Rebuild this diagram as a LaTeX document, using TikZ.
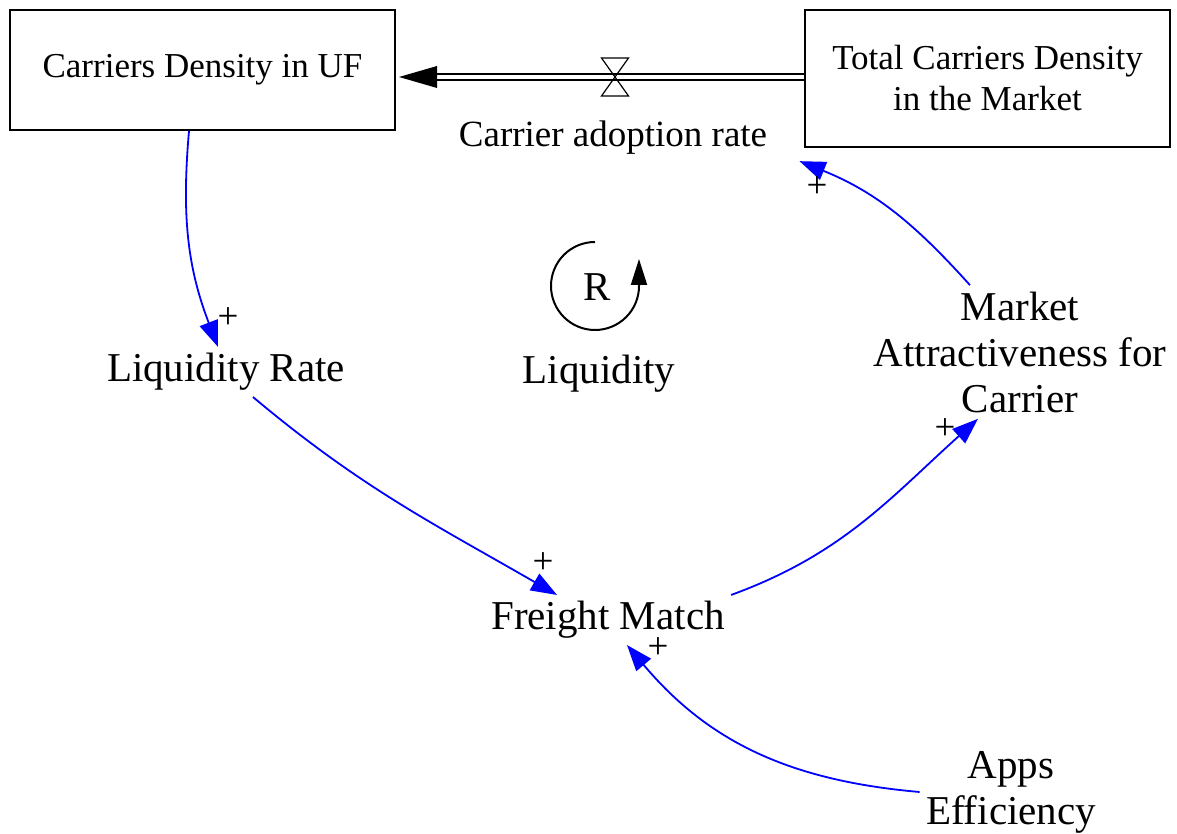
\documentclass[tikz,border=0pt]{standalone}
\usepackage{fontspec}
\setmainfont{Liberation Serif}
\usetikzlibrary{arrows.meta,positioning,calc}
\tikzset{stock/.style={draw,line width=1pt,align=center,inner sep=0pt,font=\fontsize{17.5}{20.5}\selectfont},
  var/.style={align=center,inner sep=3pt,font=\fontsize{20.5}{23}\selectfont},
  pol/.style={inner sep=0pt,font=\fontsize{18.5}{20}\selectfont},
  link/.style={-{Triangle[length=13pt,width=9.5pt]},draw=blue,line width=0.9pt},
  pipe/.style={double,double distance=2.35pt,line width=0.8pt}}

\begin{document}
\begin{tikzpicture}[x=0.5pt,y=0.5pt]
\useasboundingbox (0,0) rectangle (1177,834);
\node[stock,minimum width=192.5pt,minimum height=60pt] (ufstock) at (202.5,764) {Carriers Density in UF};
\node[stock,minimum width=182.5pt,minimum height=68.5pt] (mktstock) at (987.5,755.5)
 {Total Carriers Density\\in the Market};
\coordinate (valve) at (615,757);
\node[var,font=\fontsize{18.5}{20}\selectfont] (adopt) at (613,696) {Carrier adoption rate};
% flow pipe with valve
\draw[pipe] (mktstock.west |- valve) -- ($(ufstock.east |- valve)+(19pt,0)$);
\fill ($(ufstock.east |- valve)+(1.5pt,0)$) -- ++(19pt,5.5pt) -- ++(0,-11pt) -- cycle;
\draw[line width=0.6pt] ($(valve)+(-6.75pt,9.5pt)$) -- ++(13.5pt,0) -- ++(-13.5pt,-19pt) -- ++(13.5pt,0) -- cycle;
% loop marker
\node[var] (rsign) at (597,547) {R};
\draw[line width=1pt,-{Triangle[length=13pt,width=8pt]}] (595,592)
 arc[start angle=90,end angle=360,radius=22pt] -- ++(0,13.5pt);
\node[var] (liq) at (599,460) {Liquidity};
% variables
\node[var] (lrate) at (226,462) {Liquidity Rate};
\node[var] (fmatch) at (608,214) {Freight Match};
\node[var] (mattr) at (1020,482) {Market\\Attractiveness for\\Carrier};
\node[var] (apps) at (1011,42) {Apps\\Efficiency};
% causal links
\draw[link] ([xshift=-6.75pt]ufstock.south) to[out=-95,in=111] ([xshift=-4pt]lrate.north);
\draw[link] ([xshift=13.5pt]lrate.south) to[out=-40,in=150] ([xshift=-25.5pt]fmatch.north);
\draw[link] (fmatch.north east) to[out=20,in=-138] ([xshift=-21pt]mattr.south);
\draw[link] ([xshift=-25pt]mattr.north) to[out=132,in=-22] ([xshift=13pt]adopt.south east);
\draw[link] (apps.west) to[out=175,in=-50] ([xshift=9.5pt]fmatch.south);
\node[pol] (pl1) at (228,516) {+};
\node[pol] (pl2) at (543,271) {+};
\node[pol] (pl3) at (945,405) {+};
\node[pol] (pl4) at (817,647) {+};
\node[pol] (pl5) at (658,186) {+};
\end{tikzpicture}
\end{document}
